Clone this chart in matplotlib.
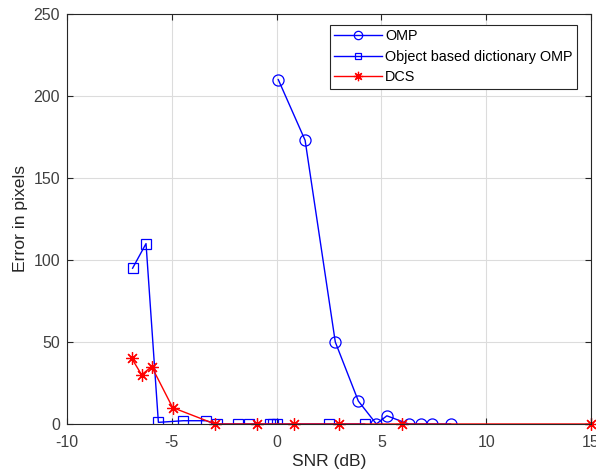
import matplotlib
matplotlib.use("Agg")
import matplotlib.pyplot as plt

plt.rcParams['font.family'] = ['Liberation Sans', 'DejaVu Sans']
plt.rcParams['axes.unicode_minus'] = False

# OMP
omp_snr = [0.08, 1.36, 2.8, 3.9, 4.76, 5.26, 6.3, 6.9, 7.4, 8.3]
omp_err = [210, 173, 50, 14, 0, 5, 0, 0, 0, 0]

# Object based dictionary OMP
obj_snr = [-6.87, -6.23, -5.64, -4.45, -3.37, -2.86, -1.83, -1.32, -0.3, -0.16, 0.0, 2.5, 4.2]
obj_err = [95, 110, 1, 2, 2, 0, 0, 0, 0, 0, 0, 0, 0]

# DCS
dcs_snr = [-6.91, -6.44, -5.96, -4.96, -2.94, -0.95, 0.83, 3.0, 5.97, 15]
dcs_err = [40, 30, 35, 10, 0, 0, 0, 0, 0, 0]

fig = plt.figure(figsize=(5.96, 4.75), dpi=100)
ax = fig.add_axes([67 / 596, 1 - 424 / 475, 524 / 596, 410 / 475])

ax.plot(omp_snr, omp_err, '-o', color='b', mfc='none', ms=8, mew=0.9, lw=1, label='OMP')
ax.plot(obj_snr, obj_err, '-s', color='b', mfc='none', ms=6.5, mew=0.9, lw=1,
        label='Object based dictionary OMP')
ax.plot(dcs_snr, dcs_err, '-', marker=(8, 2, 0), color='r', ms=9, mew=0.9, lw=1, label='DCS',
        clip_on=False)

ax.set_xlim(-10, 15)
ax.set_ylim(0, 250)
ax.set_xticks(range(-10, 16, 5))
ax.set_yticks(range(0, 251, 50))
ax.grid(True, color='#dcdcdc', lw=0.8)
ax.set_axisbelow(True)
ax.tick_params(direction='in', top=True, right=True, labelsize=11.5, color='#262626',
               labelcolor='#404040', length=4)
ax.tick_params(axis='x', pad=8)
ax.tick_params(axis='y', pad=5)
for s in ax.spines.values():
    s.set_color('#262626')
    s.set_linewidth(0.8)

ax.set_xlabel('SNR (dB)', fontsize=12.6, color='#262626', labelpad=3)
ax.set_ylabel('Error in pixels', fontsize=12.6, color='#262626', labelpad=4)

leg = ax.legend(loc='upper right', bbox_to_anchor=(577 / 596, 1 - 25 / 475),
                bbox_transform=fig.transFigure, borderaxespad=0, markerscale=0.75,
                fontsize=10.4, fancybox=False, framealpha=1, edgecolor='#262626',
                handlelength=3.3, handletextpad=0.25, labelspacing=0.45, borderpad=0.3)
leg.get_frame().set_linewidth(0.8)

fig.savefig('out.png', dpi=100)
